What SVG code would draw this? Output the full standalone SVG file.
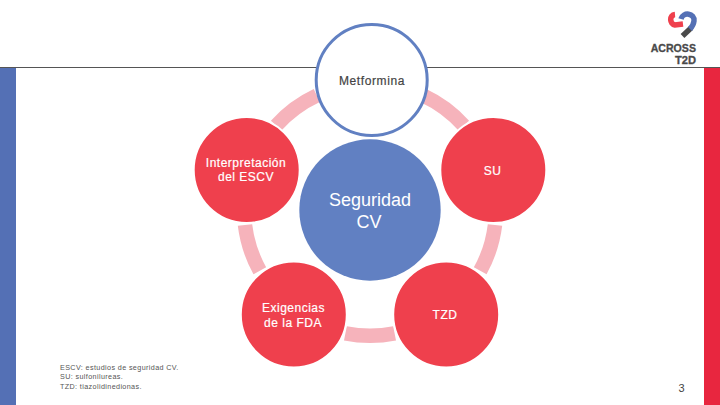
<svg xmlns="http://www.w3.org/2000/svg" width="720" height="405" viewBox="0 0 720 405">
<style>
text{font-family:"Liberation Sans",Arial,sans-serif;text-anchor:middle}
.arc{fill:none;stroke:#f6b3bb;stroke-width:14.5}
.red{fill:#ef404d;stroke:#fff;stroke-width:2}
.lab{font-size:12px;fill:#fff;stroke:#fff;stroke-width:.2;letter-spacing:.5px}
.note{font-size:7.2px;fill:#555;text-anchor:start;letter-spacing:.38px}
.lg{font-size:10.5px;font-weight:700;fill:#4a4a4a;text-anchor:start;stroke:#4a4a4a;stroke-width:.3}
</style>
<rect width="720" height="405" fill="#fff"/>
<rect x="0" y="68" width="16" height="337" fill="#5470b5"/>
<rect x="704" y="68" width="16" height="337" fill="#e8263f"/>
<line x1="0" y1="67.500" x2="720" y2="67.500" stroke="#555" stroke-width="1"/>
<g id="logo">
<path d="M691 28L682.500 36" fill="none" stroke="#4a4a4a" stroke-width="5.500"/>
<path d="M681 19C683 11.500 695 13 694 21C693.500 25 692 27 690 29" fill="none" stroke="#5470b5" stroke-width="5.500"/>
<path d="M675 14.500C669 15 669.500 24 675 25L683 24" fill="none" stroke="#ef404d" stroke-width="5.500"/>
<text class="lg" x="650.700" y="51.500" textLength="45.300" lengthAdjust="spacingAndGlyphs">ACROSS</text>
<text class="lg" x="675" y="63.500" textLength="21" lengthAdjust="spacingAndGlyphs">T2D</text>
</g>
<g id="connectors">
<path class="arc" d="M276.300 125.500A126 126 0 0 1 316.800 95.500"/>
<path class="arc" d="M423.200 95.500A126 126 0 0 1 463.700 125.500"/>
<path class="arc" d="M495 225A126 126 0 0 1 480.200 270.800"/>
<path class="arc" d="M394.600 333.300A126 126 0 0 1 345.400 333.300"/>
<path class="arc" d="M259.800 270.800A126 126 0 0 1 245 225"/>
</g>
<g id="center"><circle cx="370" cy="210" r="70.700" fill="#6180c2"/>
<text x="370" y="206" style="font-size:18px;fill:#fff">Seguridad</text>
<text x="369" y="228" style="font-size:18px;fill:#fff">CV</text></g>
<g id="metformina"><circle cx="371.700" cy="80" r="55.500" fill="#fff" stroke="#6180c2" stroke-width="3"/>
<text x="372" y="84.500" style="font-size:12px;fill:#444;stroke:#444;stroke-width:.2;letter-spacing:.6px">Metformina</text></g>
<g id="escv"><circle class="red" cx="246.700" cy="170" r="53"/>
<text class="lab" x="246" y="167">Interpretación</text><text class="lab" x="246" y="181">del ESCV</text></g>
<g id="su"><circle class="red" cx="493.300" cy="170" r="53"/>
<text class="lab" x="492.500" y="175">SU</text></g>
<g id="fda"><circle class="red" cx="293.800" cy="314.500" r="53"/>
<text class="lab" x="293.500" y="312">Exigencias</text><text class="lab" x="293" y="327">de la FDA</text></g>
<g id="tzd"><circle class="red" cx="446.200" cy="314.500" r="53"/>
<text class="lab" x="445" y="319">TZD</text></g>
<g id="notes">
<text class="note" x="60" y="370">ESCV: estudios de seguridad CV.</text>
<text class="note" x="60" y="379">SU: sulfonilureas.</text>
<text class="note" x="60" y="389">TZD: tiazolidinedionas.</text>
</g>
<text x="681.500" y="392" style="font-size:11px;fill:#444">3</text>
</svg>
